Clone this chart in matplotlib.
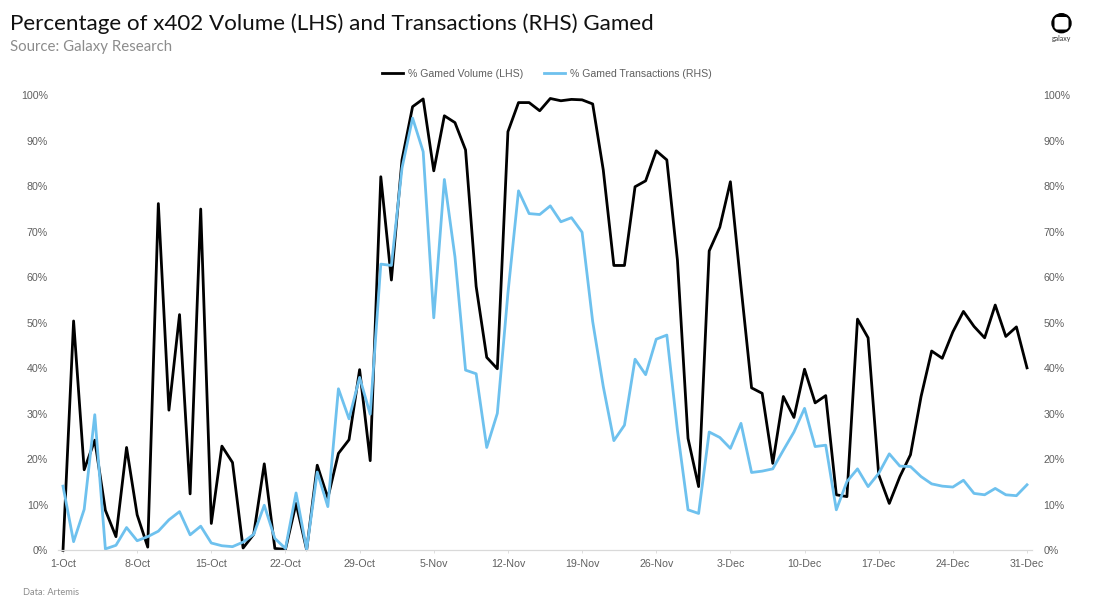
import pandas as pd
import matplotlib
matplotlib.use("Agg")
import matplotlib.pyplot as plt
import matplotlib.dates as mdates
from matplotlib.patches import Circle, FancyBboxPatch

# daily values, 1-Oct to 31-Dec
dates = pd.date_range("2025-10-01", "2025-12-31", freq="D")
gamed_volume = [
    0, 50.4, 17.7, 24.2, 8.8, 3, 22.6, 7.8, 0.7, 76.2,
    30.8, 51.8, 12.4, 75, 5.9, 22.9, 19.3, 0.5, 3.5, 19,
    0.4, 0.2, 10.3, 0.1, 18.7, 11.5, 21.3, 24.3, 39.7, 19.7,
    82.1, 59.4, 85.8, 97.5, 99.2, 83.4, 95.5, 94, 88, 58,
    42.4, 39.9, 92, 98.4, 98.4, 96.6, 99.3, 98.8, 99.1, 99,
    98.1, 83.6, 62.6, 62.6, 79.9, 81.2, 87.8, 85.8, 63.8, 24.6,
    14, 65.8, 71, 81, 58, 35.7, 34.5, 19.1, 33.8, 29.2,
    39.8, 32.4, 34, 12.2, 11.8, 50.8, 46.7, 16.6, 10.3, 16.2,
    21, 33.8, 43.8, 42.2, 48, 52.5, 49.2, 46.7, 53.9, 47,
    49.1, 40.1,
]
gamed_txns = [
    14.1, 1.9, 9, 29.8, 0.3, 1.1, 5, 2.1, 3, 4.2,
    6.7, 8.5, 3.4, 5.3, 1.6, 1, 0.8, 1.8, 3.5, 9.9,
    2.6, 0.4, 12.6, 0.2, 17.2, 9.6, 35.5, 28.9, 38, 29.9,
    62.9, 62.6, 84, 95, 87.6, 51.1, 81.5, 64.5, 39.6, 38.8,
    22.6, 30.1, 56.5, 79, 74, 73.8, 75.7, 72.2, 73.1, 69.9,
    50.3, 36, 24.1, 27.5, 42, 38.6, 46.4, 47.3, 26.4, 8.9,
    8.1, 26, 24.8, 22.4, 27.9, 17.1, 17.4, 17.9, 22, 26,
    31.2, 22.8, 23.1, 8.9, 15.1, 17.9, 14, 16.9, 21.2, 18.5,
    18.4, 16.2, 14.6, 14.1, 13.9, 15.4, 12.5, 12.2, 13.6, 12.2,
    12, 14.4,
]
y_ticks = list(range(0, 101, 10))

W, H = 1100, 613
GREY = "#606060"
plt.rcParams["font.family"] = ["Liberation Sans", "DejaVu Sans"]

fig = plt.figure(figsize=(W / 100, H / 100), dpi=100)
ax = fig.add_axes([57.7 / W, 1 - 550.3 / H, 974.6 / W, 455 / H])

ax.plot(dates, gamed_volume, color="black", lw=2.0, label="% Gamed Volume (LHS)", clip_on=False)
ax.plot(dates, gamed_txns, color="#6EC1EE", lw=2.0, label="% Gamed Transactions (RHS)", clip_on=False)

half_day = pd.Timedelta(hours=12)
ax.set_xlim(dates[0] - half_day, dates[-1] + half_day)
ax.set_ylim(0, 100)
ax.set_xticks(dates[::7])
ax.xaxis.set_major_formatter(mdates.DateFormatter("%-d-%b"))
ax.set_yticks(y_ticks)
ax.set_yticklabels([f"{v}%" for v in y_ticks])

ax2 = ax.twinx()
ax2.set_ylim(0, 100)
ax2.set_yticks(y_ticks)
ax2.set_yticklabels([f"{v}%" for v in y_ticks])

for a in (ax, ax2):
    for s in ("top", "left", "right"):
        a.spines[s].set_visible(False)
    a.spines["bottom"].set_color("#D9D9D9")
    a.spines["bottom"].set_linewidth(0.8)
    a.tick_params(axis="y", length=0, labelsize=7.7, labelcolor=GREY)
ax.tick_params(axis="y", pad=7)
ax2.tick_params(axis="y", pad=8)
ax.tick_params(axis="x", length=2, width=0.6, color="#D9D9D9", labelsize=7.7, labelcolor=GREY, pad=4)

ax.legend(loc="center", bbox_to_anchor=(547 / W, 1 - 74 / H), bbox_transform=fig.transFigure,
          ncols=2, frameon=False, fontsize=7.6, labelcolor=GREY, handlelength=2.0,
          handletextpad=0.45, columnspacing=2.0, borderpad=0)

fig.text(10 / W, 1 - 30 / H, "Percentage of x402 Volume (LHS) and Transactions (RHS) Gamed",
         family="Lato", fontsize=16.1, color="#111111")
fig.text(10 / W, 1 - 51 / H, "Source: Galaxy Research", family="Lato", fontsize=10.8, color="#8C8C8C")
fig.text(23 / W, 1 - 595 / H, "Data: Artemis", family="Lato", fontsize=6.7, color="#8C8C8C")

# logo, drawn in pixel coordinates
logo = fig.add_axes([0, 0, 1, 1], facecolor="none")
logo.set_xlim(0, W)
logo.set_ylim(H, 0)
logo.axis("off")
logo.add_patch(Circle((1061.5, 23.2), 9.5, color="black"))
logo.add_patch(FancyBboxPatch((1054.5, 17), 14, 12.5, boxstyle="round,pad=0,rounding_size=3",
                              facecolor="white", edgecolor="none"))
logo.text(1061.5, 39, "galaxy", ha="center", va="center", family="Lato", fontsize=5, color="#333333")

fig.savefig("out.png", dpi=100)
